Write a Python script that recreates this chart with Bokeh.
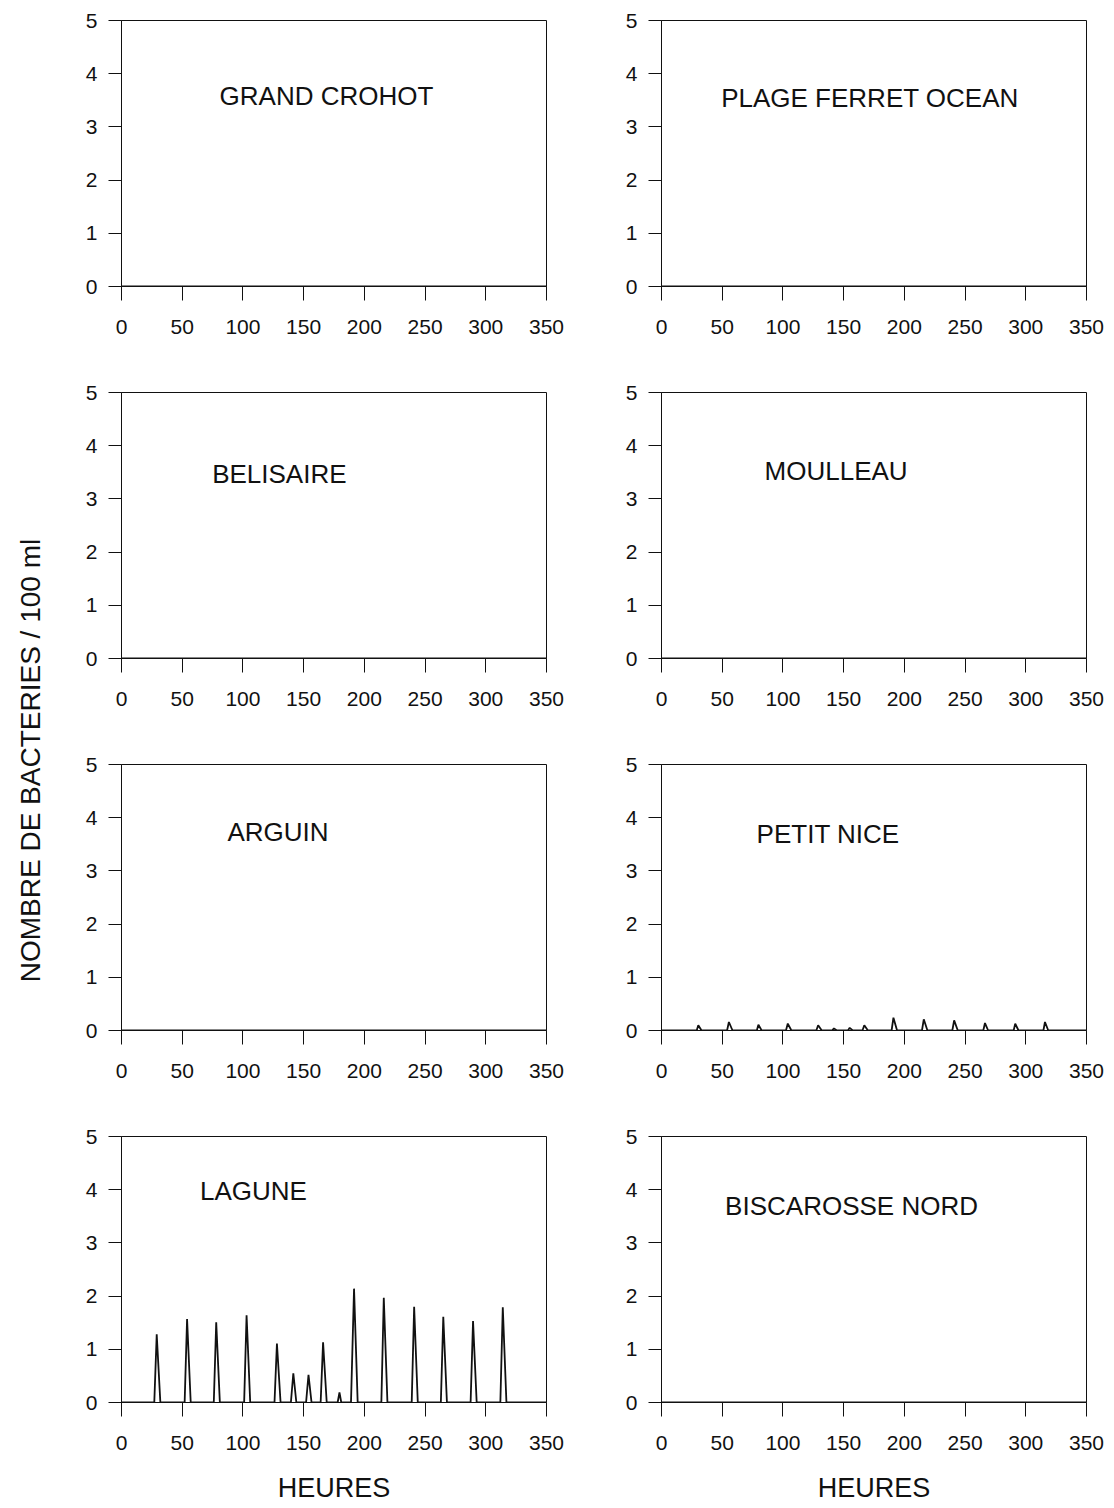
import math
from bokeh.plotting import figure
from bokeh.layouts import row, column
from bokeh.models import Range1d, FixedTicker
from bokeh.core.properties import value
from bokeh.embed import file_html
from bokeh.resources import INLINE

# ---------------- data ----------------
sites = ["GRAND CROHOT", "PLAGE FERRET OCEAN",
         "BELISAIRE", "MOULLEAU",
         "ARGUIN", "PETIT NICE",
         "LAGUNE", "BISCAROSSE NORD"]

x_ticks = [0, 50, 100, 150, 200, 250, 300, 350]
y_ticks = [0, 1, 2, 3, 4, 5]

flat_t = [0, 350]
flat_y = [0, 0]

lagune_t = [0,
            27, 29, 32,
            52, 54, 57,
            76, 78, 81,
            101, 103, 106,
            126, 128, 131,
            139.5, 141.5, 144,
            152, 154, 156.5,
            164, 166, 169,
            178, 179.5, 181,
            189, 191.5, 194.5,
            214, 216, 219,
            239, 241, 244,
            263, 265, 268,
            287.5, 289.5, 292.5,
            312, 314, 317,
            350]
lagune_y = [0,
            0, 1.28, 0,
            0, 1.57, 0,
            0, 1.51, 0,
            0, 1.64, 0,
            0, 1.11, 0,
            0, 0.55, 0,
            0, 0.52, 0,
            0, 1.13, 0,
            0, 0.19, 0,
            0, 2.14, 0,
            0, 1.97, 0,
            0, 1.80, 0,
            0, 1.61, 0,
            0, 1.53, 0,
            0, 1.79, 0,
            0]

petit_nice_t = [0,
                29, 30.3, 33,
                54, 55.5, 58.5,
                78.5, 79.8, 82.5,
                102.5, 104, 107,
                127.5, 129, 132,
                140.5, 142, 144.5,
                153.5, 155, 157.5,
                165.5, 167, 170,
                189.5, 191, 194,
                214.5, 216, 219,
                239.5, 241, 244,
                265, 266.4, 269,
                290, 291.3, 294,
                314.5, 315.8, 318.5,
                350]
petit_nice_y = [0,
                0, 0.10, 0,
                0, 0.16, 0,
                0, 0.11, 0,
                0, 0.13, 0,
                0, 0.10, 0,
                0, 0.04, 0,
                0, 0.05, 0,
                0, 0.10, 0,
                0, 0.24, 0,
                0, 0.21, 0,
                0, 0.19, 0,
                0, 0.14, 0,
                0, 0.13, 0,
                0, 0.16, 0,
                0]

series = {
    "GRAND CROHOT": (flat_t, flat_y),
    "PLAGE FERRET OCEAN": (flat_t, flat_y),
    "BELISAIRE": (flat_t, flat_y),
    "MOULLEAU": (flat_t, flat_y),
    "ARGUIN": (flat_t, flat_y),
    "PETIT NICE": (petit_nice_t, petit_nice_y),
    "LAGUNE": (lagune_t, lagune_y),
    "BISCAROSSE NORD": (flat_t, flat_y),
}

y_label_text = "NOMBRE DE BACTERIES / 100 ml"
x_label_text = "HEURES"

# ---------------- layout / style (not data) ----------------
label_pos = {
    "GRAND CROHOT": (168.8, 3.59),
    "PLAGE FERRET OCEAN": (171.7, 3.55),
    "BELISAIRE": (130.0, 3.46),
    "MOULLEAU": (143.8, 3.53),
    "ARGUIN": (128.9, 3.74),
    "PETIT NICE": (137.2, 3.70),
    "LAGUNE": (108.7, 3.98),
    "BISCAROSSE NORD": (156.5, 3.70),
}

FONT = "Liberation Sans"
INK = "#111111"
STRIP_W = 60
FRAME_W = 425
FRAME_H = 266


def make_panel(name, col, is_last):
    border_left = 61
    border_right = 54 if col == 0 else 28
    border_top = 20
    border_bottom = 106 if is_last else 86
    p = figure(output_backend="svg", toolbar_location=None,
               frame_width=FRAME_W, frame_height=FRAME_H,
               min_border_left=border_left, min_border_right=border_right,
               min_border_top=border_top, min_border_bottom=border_bottom,
               x_range=Range1d(0, 350), y_range=Range1d(0, 5),
               tools="")
    p.grid.visible = False
    p.background_fill_color = "white"
    p.border_fill_color = "white"
    p.outline_line_color = INK
    p.outline_line_width = 1

    for ax in (p.xaxis[0], p.yaxis[0]):
        ax.axis_line_color = INK
        ax.axis_line_width = 1
        ax.major_tick_line_color = INK
        ax.major_tick_line_width = 1
        ax.minor_tick_line_color = None
        ax.major_tick_in = 0
        ax.major_label_text_font = FONT
        ax.major_label_text_font_size = "21px"
        ax.major_label_text_color = INK

    p.xaxis.ticker = FixedTicker(ticks=x_ticks)
    p.yaxis.ticker = FixedTicker(ticks=y_ticks)
    p.xaxis.major_tick_out = 14
    p.yaxis.major_tick_out = 13
    p.xaxis.major_label_standoff = 19
    p.yaxis.major_label_standoff = 11

    if is_last:
        p.xaxis.axis_label = x_label_text
        p.xaxis.axis_label_text_font = FONT
        p.xaxis.axis_label_text_font_size = "27px"
        p.xaxis.axis_label_text_font_style = "normal"
        p.xaxis.axis_label_text_color = INK
        p.xaxis.axis_label_standoff = 20

    t, y = series[name]
    p.line(t, y, line_color=INK, line_width=1.8)

    lx, ly = label_pos[name]
    p.text(x=[lx], y=[ly], text=[name], text_font=value(FONT),
           text_font_size="26px", text_color=INK,
           text_align="center", text_baseline="middle")
    return p


rows = []
for r in range(4):
    panels = []
    for c in range(2):
        name = sites[2 * r + c]
        panels.append(make_panel(name, c, r == 3))
    rows.append(row(*panels, spacing=0))
grid = column(*rows, spacing=0)

strip = figure(output_backend="svg", toolbar_location=None, tools="",
               frame_width=STRIP_W, frame_height=1508,
               min_border=0, x_range=Range1d(0, 1), y_range=Range1d(0, 1))
strip.axis.visible = False
strip.grid.visible = False
strip.outline_line_color = None
strip.text(x=[0.5], y=[0.496], text=[y_label_text], text_font=value(FONT),
           text_font_size="28px", text_color=INK, angle=math.pi / 2,
           text_align="center", text_baseline="middle")

page = row(strip, grid, spacing=0)

open("out.html", "w").write(file_html(page, INLINE))
